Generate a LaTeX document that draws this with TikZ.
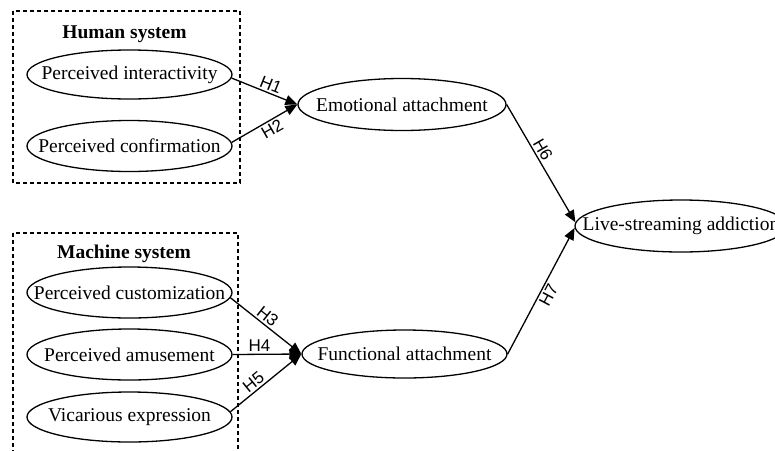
\documentclass[tikz,border=0pt]{standalone}
\usepackage{fontspec}
\setmainfont{Liberation Serif}
\newfontfamily\labfont{Liberation Sans}
\usetikzlibrary{shapes.geometric,arrows.meta}
\newcommand{\zt}[1]{\makebox[0pt][c]{#1}}
\begin{document}
\begin{tikzpicture}[x=1pt,y=-1pt,
  ell/.style={draw,ellipse,line width=1.3pt,inner sep=0pt,font=\fontsize{19.5}{22}\selectfont},
  grp/.style={draw,dashed,dash pattern=on 4pt off 3pt,line width=1.1pt},
  ttl/.style={font=\fontsize{19.5}{22}\selectfont\bfseries},
  arr/.style={line width=1.3pt,-{Triangle[length=12pt,width=10pt]}},
  hl/.style={font=\labfont\fontsize{17}{19}\selectfont,inner sep=2pt}]
\useasboundingbox (0,0) rectangle (775,450);
\begin{scope}
\clip (0,0) rectangle (775,450);
\draw[grp] (13,11) rectangle (240,183);
\draw[grp] (13,233) rectangle (238,470);
\node[ttl] (th) at (124.5,34) {Human system};
\node[ttl] (tm) at (124,254) {Machine system};
\node[ell,minimum width=205pt,minimum height=49pt] (pi) at (129.5,74.5) {\zt{Perceived interactivity}};
\node[ell,minimum width=205pt,minimum height=51pt] (pc) at (129.5,146) {\zt{Perceived confirmation}};
\node[ell,minimum width=205pt,minimum height=51pt] (pcu) at (129.5,292.5) {\zt{Perceived customization}};
\node[ell,minimum width=205pt,minimum height=51pt] (pa) at (129.5,354.5) {\zt{Perceived amusement}};
\node[ell,minimum width=205pt,minimum height=50pt] (ve) at (129.5,417) {\zt{Vicarious expression}};
\node[ell,minimum width=208pt,minimum height=52pt] (ea) at (402,104.5) {\zt{Emotional attachment}};
\node[ell,minimum width=205pt,minimum height=48pt] (fa) at (404.5,354) {\zt{Functional attachment}};
\node[ell,minimum width=212pt,minimum height=52pt] (lsa) at (681,226) {\zt{Live-streaming addiction}};
\draw[arr] (pi.-2.5) -- node[hl,sloped,above,pos=0.55] (h1) {H1} (ea.west);
\draw[arr] (pc.2.5) -- node[hl,sloped,below,pos=0.55] (h2) {H2} (ea.west);
\draw[arr] (pcu.-3.5) -- node[hl,sloped,above,pos=0.45] (h3) {H3} (fa.west);
\draw[arr] (pa.east) -- node[hl,above,pos=0.39] (h4) {H4} (fa.west);
\draw[arr] (ve.3.5) -- node[hl,sloped,above,pos=0.4] (h5) {H5} (fa.west);
\draw[arr] (ea.east) -- node[hl,sloped,above,pos=0.42] (h6) {H6} (lsa.178.5);
\draw[arr] (fa.east) -- node[hl,sloped,below,pos=0.5] (h7) {H7} (lsa.181.5);
\end{scope}
\end{tikzpicture}
\end{document}
